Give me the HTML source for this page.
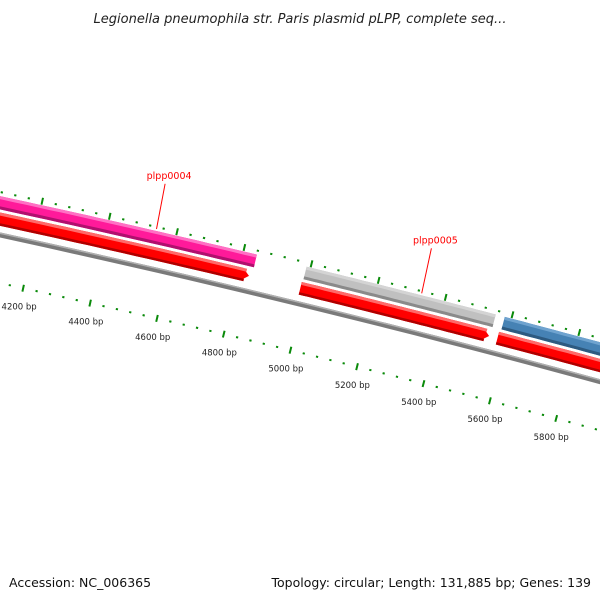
<!DOCTYPE html>
<html><head><meta charset="utf-8"><style>
body{margin:0;background:#fff}
svg{display:block;font-family:"DejaVu Sans","Liberation Sans",sans-serif}
</style></head><body>
<svg id="map" width="600" height="600" viewBox="0 0 600 600" xmlns="http://www.w3.org/2000/svg">
<rect width="600" height="600" fill="#fff"/>
<text x="300" y="23" text-anchor="middle" font-size="13" font-style="italic" fill="#222">Legionella pneumophila str. Paris plasmid pLPP, complete seq...</text>
<g id="plot"></g>
<text x="9" y="587" font-size="12.5" fill="#111">Accession: NC_006365</text>
<text x="591" y="587" text-anchor="end" font-size="12.5" fill="#111">Topology: circular; Length: 131,885 bp; Genes: 139</text>
</svg>
<script>
const tickLabels = [4200,4400,4600,4800,5000,5200,5400,5600,5800];
const featureNames = ["plpp0004","plpp0005","plpp0006"];
const featureStarts = [3400,4988,5580];
const featureEnds = [4840,5553,6600];
const featureColors = ["#ff1a9a","#c0c0c0","#4682b4"];
const cdsStarts = [3400,4985,5575];
const cdsEnds = [4832,5550,6600];

const NS="http://www.w3.org/2000/svg";
const CX=-2500.6, CY=11767, R0=11800, PHI0=-77.6*Math.PI/180, K=2.918e-5, B0=4200;
const g=document.getElementById('plot');
function pt(bp,r){const a=PHI0+(bp-B0)*K*(11754/r);return [CX+r*Math.cos(a),CY+r*Math.sin(a)];}
function ang(bp){return PHI0+(bp-B0)*K;}
function P(bp,r){const a=ang(bp);return [CX+r*Math.cos(a),CY+r*Math.sin(a)];}
function mk(tag,attrs){const e=document.createElementNS(NS,tag);for(const k in attrs)e.setAttribute(k,attrs[k]);g.appendChild(e);return e;}
function band(b1,b2,r1,r2,fill,tip){
  const pts=[];const n=40;
  const bEnd = tip? b2-22 : b2;
  for(let i=0;i<=n;i++){const b=b1+(bEnd-b1)*i/n;pts.push(P(b,r2));}
  if(tip) pts.push(P(b2,(r1+r2)/2));
  for(let i=n;i>=0;i--){const b=b1+(bEnd-b1)*i/n;pts.push(P(b,r1));}
  return mk('polygon',{points:pts.map(p=>p[0].toFixed(1)+','+p[1].toFixed(1)).join(' '),fill:fill});
}
// backbone
let e=band(3300,6700,R0-2.5,R0+2.5,"#7a7a7a",false);

e=band(3300,6700,R0+1,R0+2.5,"#b0b0b0",false);

// CDS red arrows
for(let i=0;i<cdsStarts.length;i++){
  const tip=cdsEnds[i]<6000;
  e=band(cdsStarts[i],cdsEnds[i],R0+9,R0+22,"#ff0000",tip);
  
  e=band(cdsStarts[i],cdsEnds[i]-(tip?10:0),R0+19,R0+22,"#ff6a6a",false);
  
  e=band(cdsStarts[i],cdsEnds[i]-(tip?12:0),R0+9,R0+11.5,"#b00000",false);
  
}
// gene features
const shade={"#ff1a9a":["#ff70c4","#b0106e"],"#c0c0c0":["#d4d4d4","#8a8a8a"],"#4682b4":["#6fa3cf","#2d5a80"]};
for(let i=0;i<featureStarts.length;i++){
  e=band(featureStarts[i],featureEnds[i],R0+25,R0+38,featureColors[i],false);
  
  e=band(featureStarts[i],featureEnds[i],R0+35,R0+38,shade[featureColors[i]][0],false);
  
  e=band(featureStarts[i],featureEnds[i],R0+25,R0+28,shade[featureColors[i]][1],false);
  
}
// ticks
for(let b=3800;b<=6400;b+=40){
  const major=(b%200===0);
  [[R0+42,1],[R0-47,-1]].forEach(([r,s])=>{
    const len=major?7:2;
    const a=P(b,r-len/2),c=P(b,r+len/2);
    const t=mk('line',{x1:a[0].toFixed(1),y1:a[1].toFixed(1),x2:c[0].toFixed(1),y2:c[1].toFixed(1),stroke:"#0a8a0a","stroke-width":major?2:2.2});
    
    
  });
}
// tick labels
tickLabels.forEach(b=>{
  const p=P(b,R0-66);
  const t=mk('text',{x:p[0].toFixed(1),y:(p[1]+3).toFixed(1),'text-anchor':'middle','font-size':'8.5',fill:'#222'});
  t.textContent=b+' bp';
  
  
});
// feature labels
const labelBp=[4540,5330];
for(let i=0;i<2;i++){
  const a=P(labelBp[i],R0+40),c=P(labelBp[i]-5,R0+86);
  let l=mk('line',{x1:a[0].toFixed(1),y1:a[1].toFixed(1),x2:c[0].toFixed(1),y2:c[1].toFixed(1),stroke:"#ff0000","stroke-width":1});
  
  
  const t=mk('text',{x:(c[0]+4).toFixed(1),y:(c[1]-5).toFixed(1),'text-anchor':'middle','font-size':'9.5',fill:'#ff0000'});
  t.textContent=featureNames[i];
  
  
}
</script>
</body></html>
